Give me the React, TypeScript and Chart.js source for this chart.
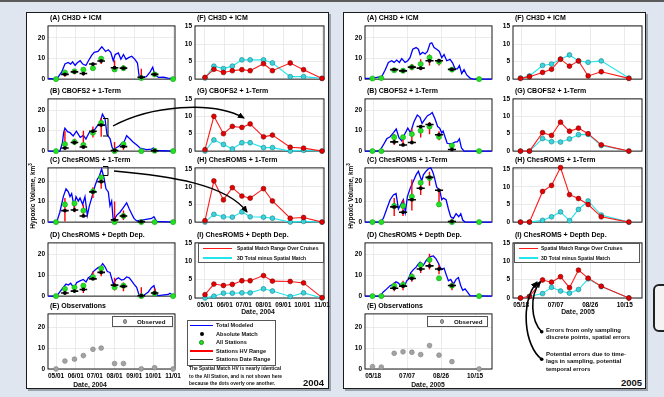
import React, { useEffect, useRef } from "react";
import { Chart, registerables } from "chart.js";
Chart.register(...registerables);

const FONT = "'Liberation Sans', Arial, Helvetica, sans-serif";
Chart.defaults.font.family = FONT;

type Pair = [number, number];
type V = number | null;

// ---------------- DATA ----------------
// days counted from 05/01/2004 and from 05/18/2005
const CRUISE_DAYS_2004 = [0, 14, 29, 43, 58, 71, 92, 106, 134, 155, 184];
const CRUISE_DAYS_2005 = [-1, 12, 31, 44, 57, 70, 83, 97, 116, 156];
const X_TICKS_2004 = [0, 31, 61, 92, 123, 153, 184];
const X_LABELS_2004 = ["05/01", "06/01", "07/01", "08/01", "09/01", "10/01", "11/01"];
const X_TICKS_2005 = [0, 50, 100, 150];
const X_LABELS_2005 = ["05/18", "07/07", "08/26", "10/15"];
const Y_TICKS_VOLUME = [0, 10, 20];
const Y_TICKS_DIFF = [0, 5, 10, 15];
const DATE_RANGE_HALF = 6;

// ---- 2004 total modeled HV (blue) ----
const totalA2004: Pair[] = [[-12,0.3],[1,0],[9,3.5],[14,7.3],[19,8.1],[23,7.3],[26,8.4],[30,6.6],[33,7.8],[38,8.9],[42,7.3],[47,6.6],[51,8.9],[56,11.5],[60,13],[66,13.4],[72,15.7],[75,14.5],[78,13.4],[82,14.2],[86,13],[90,8.9],[93,11.9],[98,12.7],[102,9.6],[106,11.9],[110,9.6],[114,10.4],[119,11.1],[124,9.6],[128,7.8],[131,0.5],[135,0.8],[142,1.2],[148,3.5],[152,5.8],[155,2.3],[161,0.8],[169,0.9],[176,0.5],[186,0.2]];
const totalB2004: Pair[] = [[-12,0],[6,0],[10,4],[12,9],[14,11.2],[18,9.5],[22,9],[27,7.4],[32,9.7],[38,6.7],[43,7.7],[47,5.9],[52,9],[59,9.7],[64,12],[69,13.8],[73,18],[77,15.8],[80,8.2],[85,6],[88,2],[90,0.7],[98,2.2],[103,3.7],[107,4.5],[111,7.5],[116,6],[121,4.5],[127,3],[132,1.5],[142,0.7],[150,1],[153,1.5],[158,0.3],[186,0]];
const totalC2004: Pair[] = [[-12,0],[1,0],[6,4.8],[11.5,12.4],[15.7,16.2],[19.4,14.7],[22,12.4],[24.6,13.9],[28.3,7.9],[31.4,12.4],[35,10.2],[37.7,11.7],[41.9,8.6],[45.5,12.4],[49.2,3.3],[52.4,7.9],[56,11.7],[61.3,17.7],[64.9,20.8],[68,22.3],[71.7,25.8],[75.4,21.5],[78.5,16.2],[82.2,14.7],[84.8,7.9],[87.4,10.2],[90,0.6],[95.3,3.3],[100.5,4.8],[105.8,7.1],[111,9.4],[115.2,6.4],[118.8,4.1],[122.5,1.8],[126.7,0.6],[137.2,1.1],[150.3,1.8],[153.9,2.6],[158.1,0.3],[186,0]];
const totalD2004: Pair[] = [[-12,0],[1,0],[6,2],[11.5,4.2],[15.7,5.8],[19.4,5.3],[23,6.2],[28.3,3.8],[32.5,6.5],[37.7,7.3],[42.9,8],[47.1,6.8],[50.8,8.8],[54.5,9.5],[58.6,11.8],[62.8,12.9],[66.5,13.8],[70.2,14.1],[73.3,15.6],[77,14.1],[80.6,11.8],[84.8,11.4],[90,5.8],[94.2,8],[97.9,8.8],[103.1,7.7],[106.8,8],[111,9.2],[115.2,8.8],[118.8,7.3],[122.5,5.8],[126.7,4.2],[130.9,0.2],[137.2,0.2],[145,2],[150.3,4.2],[153.9,5],[157,1.2],[160.7,0.2],[176.4,0.8],[179,1.4],[185,0.2]];

// ---- 2004 cruise values ----
const greenA2004: V[] = [0, 3.2, 3.8, 4.6, 5.3, 9.9, 4.7, 5.3, 0.5, 2.3, 0];
const blackA2004: V[] = [null, 2.3, 3.5, 2.7, 7.3, 8.8, 5.5, 5.3, 0.9, 2.3, null];
const hvLowA2004: V[] = [null, 1.2, 2.3, 1.7, 5.0, 7.3, 4.3, 4.3, 0.5, 1.2, null];
const hvHighA2004: V[] = [null, 4.3, 4.3, 5.0, 8.1, 10.4, 9.2, 6.6, 5.0, 3.5, null];

const greenB2004: V[] = [0, 3.4, 4.5, 3, 9, 13.8, 0, 3.4, 0, 0.2, 0];
const blackB2004: V[] = [null, 1.5, 4.2, 2, 9.7, 12.7, 0.3, 2.2, null, 0.2, null];
const hvLowB2004: V[] = [null, 1.5, 3, 2, 6.7, 7, 0, 0.7, null, null, null];
const hvHighB2004: V[] = [null, 10, 6, 10, 12, 16, 4.5, 3.7, null, null, null];

const greenC2004: V[] = [0, 8.6, 9.1, 5.6, 15, 21.8, 0, 3, 0, 0, 0];
const blackC2004: V[] = [null, 5.6, 5.9, 3, 14.7, 19.7, 1.1, 3, 0.2, null, null];
const hvLowC2004: V[] = [null, 0.3, 4.8, 2.6, 11.7, 16.2, 0.3, 1, null, null, null];
const hvHighC2004: V[] = [null, 11.7, 10, 8.6, 17, 23, 10, 5.6, null, null, null];

const greenD2004: V[] = [0, 3.5, 4.2, 5, 9.2, 13.3, 4.2, 5, 0, 1.2, 0];
const blackD2004: V[] = [null, 1.5, 2.4, 3.2, 8.3, 11.4, 5.3, 4.7, 0.2, 1.5, null];
const hvLowD2004: V[] = [null, 0.8, 2, 1.5, 7.7, 9.5, 2.7, 2.3, 0, 0.5, null];
const hvHighD2004: V[] = [null, 4.2, 5, 5.5, 11.8, 14, 8.8, 6.5, 4.2, 3.8, null];

const observed2004: V[] = [0, 3.8, 4.7, 6.4, 9.4, 10, 2.6, 2.6, 0.1, 0.6, 0];

const spatialF2004: V[] = [0.5, 2.8, 1.9, 2.4, 2.7, 2.4, 4.4, 2.4, 4.6, 2.7, 0.2];
const totalMinusF2004: V[] = [0.3, 3.7, 3, 3.7, 5.5, 5.5, 5.5, 4.6, 0.7, 0.7, 0.2];
const spatialG2004: V[] = [0.4, 10, 5, 7.1, 6.8, 7.8, 4.1, 4.6, 1.1, 0.85, 0];
const totalMinusG2004: V[] = [0, 3.2, 1.9, 0.6, 2.4, 2.4, 1, 1, 0, 0.2, 0];
const spatialH2004: V[] = [0.4, 11.7, 6.3, 9.8, 7.4, 6.8, 9.5, 6, 1.1, 1.3, 0];
const totalMinusH2004: V[] = [0, 2.2, 1.5, 1.4, 2.9, 1.5, 1.4, 1.1, 0, 0.2, 0];
const spatialI2004: V[] = [0.9, 3.8, 3.4, 3.7, 4.7, 4.7, 6.1, 4.6, 4.5, 4.1, 0.1];
const totalMinusI2004: V[] = [0, 0.5, 1.3, 1.3, 1.4, 1.4, 2.5, 1.9, 0.4, 1.4, 0];

// ---- 2005 total modeled HV (blue) ----
const totalA2005: Pair[] = [[-12,0.3],[-2,0.5],[5,0.8],[12.6,1.2],[17.5,4.3],[22.4,8.1],[27.3,8.9],[30.8,8.1],[34.7,9.2],[38.6,8.1],[42.1,9.9],[47,8.1],[50.9,8.9],[54.3,10.4],[58.3,14.5],[63.2,15.3],[66.6,14.5],[69.1,11.9],[73,13],[76.5,12.2],[79.9,13.4],[83.8,17.3],[86.3,17.6],[89.7,15.3],[93.6,14.5],[97.5,13.4],[101,10.4],[104.4,11.9],[108.3,8.9],[113.2,9.6],[117.1,7.8],[120.6,5],[124,5],[127,6.6],[130.4,2.7],[133.8,4.6],[137.8,2],[142.7,0.5],[147.6,0],[174.6,0]];
const totalB2005: Pair[] = [[-12,0],[5,0],[10,0.3],[15,3],[20,6],[25,7],[30,9],[34,10.8],[38,6.5],[42,5],[46,8],[51,11.2],[55,9],[60,14.2],[65,17.6],[69,16.5],[72,13.5],[75,15],[80,17.3],[84,18],[87,18.8],[91,15.8],[95,12],[98,11.2],[101,8.9],[103,9.8],[106,6.8],[109,3.8],[113,3.5],[117,3.8],[121,4.5],[124,4.5],[127,6],[130,1.5],[134,0],[174.6,0]];
const totalC2005: Pair[] = [[-12,0],[10,0],[15,1.8],[20,6.4],[25,10.9],[29.8,13.2],[33.7,13.9],[37.2,6.4],[39.6,7.9],[44.5,10.9],[47.5,4.8],[50.4,12.4],[54.3,16.2],[59.3,20],[63.2,23],[66.6,24.8],[69.1,22.3],[71.5,20],[74,23],[77.9,24.8],[81.4,26],[84.8,26.4],[87.7,24.5],[90.2,21.8],[93.6,17],[96.1,16.2],[98.5,14.7],[101,10.9],[103.4,11.7],[107.4,10.9],[110.8,6.4],[114.2,2.6],[118.2,1.8],[122.1,4.1],[126,2.6],[129,4.1],[131.9,1],[135.3,0],[174.6,0]];
const totalD2005: Pair[] = [[-12,0],[10,0],[15,2],[20,3.5],[25,5],[29.8,5.8],[33.7,6.9],[37.2,6.3],[40.6,5],[44.5,6.3],[47,5.4],[49.4,7.4],[51.9,8.1],[55.3,11.2],[59.3,12.8],[63.2,14],[66.6,15.6],[69.1,16.4],[74,14.9],[77.9,17.1],[82.8,19],[88.7,19.4],[92.6,18],[96.1,15.9],[98.5,14],[101,12.8],[104.4,13.5],[107.4,10.5],[110.8,7.4],[114.2,8.1],[118.2,5.8],[122.1,8.1],[125.5,8.9],[129,5],[131.9,2.8],[135.3,3.5],[138.7,2],[142.7,0.2],[174.6,0]];

// ---- 2005 cruise values ----
const greenA2005: V[] = [0.3, 0.5, 4.3, 4.1, 5.8, 7.3, 10.4, 8.4, 4.6, 0];
const blackA2005: V[] = [null, null, 4.6, 4, 5.8, 5.3, 8.9, 8.9, 4.7, null];
const hvLowA2005: V[] = [null, null, 3.5, 3.2, 4.3, 4.3, 6.6, 6.6, 3.8, null];
const hvHighA2005: V[] = [null, null, 5.3, 4.8, 7.3, 9.6, 11.9, 9.6, 5.3, null];

const greenB2005: V[] = [0, 0, 6.8, 6.8, 8.3, 10, 12, 7, 2.7, 0];
const blackB2005: V[] = [null, null, 4.5, 3, 4.2, 12, 13, 8, 0.8, null];
const hvLowB2005: V[] = [null, null, 3, 2.5, 3.8, 6.7, 8.2, 5.3, 0.5, null];
const hvHighB2005: V[] = [null, null, 8.3, 7, 11, 12.7, 14.2, 9.7, 3, null];

const greenC2005: V[] = [0, 0, 7.9, 7.9, 12.4, 19.2, 21.5, 8.6, 0, 0];
const blackC2005: V[] = [null, null, 7.4, 4.8, 10.9, 16.5, 21.8, 15.5, 0.3, null];
const hvLowC2005: V[] = [null, null, 3, 3, 5.6, 13.2, 17.7, 9.4, 0, null];
const hvHighC2005: V[] = [null, null, 11.7, 10.9, 20.8, 20, 24.5, 16.2, 1.8, null];

const greenD2005: V[] = [0, 0, 5, 5.5, 9.4, 15, 17.5, 8.6, 5, 0];
const blackD2005: V[] = [null, null, 3.8, 4.8, 8.5, 13.1, 14.6, 13.1, 5.1, null];
const hvLowD2005: V[] = [null, null, 2.3, 2.8, 6.9, 11.2, 12.8, 10.5, 2.8, null];
const hvHighD2005: V[] = [null, null, 6.6, 7.4, 10.9, 15.8, 20.5, 15, 6.6, null];

const observed2005: V[] = [1.1, 0.9, 7.5, 8.2, 8, 6.9, 11.2, 6.6, 3.5, 0];

const spatialF2005: V[] = [0.2, 0.7, 1.9, 2.8, 5.7, 3.7, 5.2, 0.9, 2.1, 0.2];
const totalMinusF2005: V[] = [0.3, 0.9, 3.9, 4.3, 5.7, 6.9, 5.2, 4.8, 5.2, 0.3];
const spatialG2005: V[] = [0, 0, 5.3, 4.5, 8.3, 5.7, 6.6, 5, 1.8, 0];
const totalMinusG2005: V[] = [0, 0, 3.6, 2.7, 2.6, 3.5, 4.7, 4.8, 1.6, 0];
const spatialH2005: V[] = [0, 0, 8.7, 10.4, 15.5, 7.8, 6.7, 5, 1.5, 0];
const totalMinusH2005: V[] = [0, 0, 0.5, 1.5, 2.9, 0.4, 3.6, 6, 2, 0];
const spatialI2005: V[] = [0, 0.4, 4.9, 4.3, 5.8, 2.8, 7.6, 5.4, 3.2, 0];
const totalMinusI2005: V[] = [0, 0.4, 1.2, 2.9, 1.9, 1.3, 2.3, 5.2, 3.1, 0];

// ---------------- helpers ----------------
const toXY = (pairs: Pair[]) => pairs.map(([x, y]) => ({ x, y }));
const atDays = (days: number[], vals: V[]) => vals.map((y, i) => ({ x: days[i], y }));
const vSegs = (days: number[], lo: V[], hi: V[]) => {
  const out: any[] = [];
  days.forEach((d, i) => {
    if (lo[i] !== null && hi[i] !== null) out.push({ x: d, y: lo[i] }, { x: d, y: hi[i] }, { x: d, y: null });
  });
  return out;
};
const hSegs = (days: number[], vals: V[], half: number) => {
  const out: any[] = [];
  days.forEach((d, i) => {
    if (vals[i] !== null) out.push({ x: d - half, y: vals[i] }, { x: d + half, y: vals[i] }, { x: d, y: null });
  });
  return out;
};

function seriesDatasets(days: number[], total: Pair[], green: V[], black: V[], lo: V[], hi: V[]) {
  return [
    { data: atDays(days, black), showLine: false, pointRadius: 1.9, pointBackgroundColor: "#000", pointBorderWidth: 0, clip: 6 },
    { data: hSegs(days, black, DATE_RANGE_HALF), showLine: true, spanGaps: false, borderColor: "#000", borderWidth: 1.6, pointRadius: 0, clip: 6 },
    { data: atDays(days, green), showLine: false, pointRadius: 2.6, pointBackgroundColor: "#22e022", pointBorderColor: "#109810", pointBorderWidth: 0.5, clip: 6 },
    { data: vSegs(days, lo, hi), showLine: true, spanGaps: false, borderColor: "#ff0000", borderWidth: 1.4, pointRadius: 0, clip: 6 },
    { data: toXY(total), showLine: true, borderColor: "#0000ff", borderWidth: 1.3, pointRadius: 0, clip: 6 },
  ];
}
function diffDatasets(days: number[], spatial: V[], totalMinus: V[]) {
  return [
    { data: atDays(days, spatial), showLine: true, borderColor: "#ff1a1a", borderWidth: 1.1, pointRadius: 2.4, pointBackgroundColor: "#e60000", pointBorderColor: "#7a0000", pointBorderWidth: 0.6, clip: 6 },
    { data: atDays(days, totalMinus), showLine: true, borderColor: "#22e6ee", borderWidth: 1.1, pointRadius: 2.4, pointBackgroundColor: "#3cd4dc", pointBorderColor: "#137f85", pointBorderWidth: 0.6, clip: 6 },
  ];
}
function obsDatasets(days: number[], obs: V[]) {
  return [{ data: atDays(days, obs), showLine: false, pointRadius: 2.4, pointBackgroundColor: "#a3a3a3", pointBorderColor: "#7d7d7d", pointBorderWidth: 0.6, clip: 6 }];
}

// ---------------- layout ----------------
const ROWS = [
  { top: 24, bottom: 81 },
  { top: 97, bottom: 153 },
  { top: 166, bottom: 224 },
  { top: 241, bottom: 298 },
  { top: 312, bottom: 369 },
];
const COLS = {
  l04: { left: 48, right: 175, xMin: -12.6, xMax: 187 },
  r04: { left: 195, right: 324, xMin: -15.7, xMax: 187.1 },
  l05: { left: 365, right: 492, xMin: -12, xMax: 175 },
  r05: { left: 513, right: 642, xMin: -11.8, xMax: 175 },
};

type Spec = {
  id: string;
  col: { left: number; right: number; xMin: number; xMax: number };
  row: number;
  yMax: number;
  yTicks: number[];
  xTicks: number[];
  xLabels: string[] | null;
  datasets: any[];
};

const framePlugin = {
  id: "frameBox",
  beforeDatasetsDraw(chart: any) {
    const { ctx, chartArea } = chart;
    ctx.save();
    ctx.strokeStyle = "#000";
    ctx.lineWidth = 0.9;
    ctx.strokeRect(chartArea.left, chartArea.top, chartArea.right - chartArea.left, chartArea.bottom - chartArea.top);
    ctx.restore();
  },
};

const YW = 20, PT = 5, PR = 14, PB = 5, XH = 12;

function ChartPanel({ spec }: { spec: Spec }) {
  const ref = useRef<HTMLCanvasElement>(null);
  const r = ROWS[spec.row];
  const w = spec.col.right - spec.col.left + YW + PR;
  const h = r.bottom - r.top + PT + (spec.xLabels ? XH : PB);
  useEffect(() => {
    const chart = new Chart(ref.current as HTMLCanvasElement, {
      type: "scatter",
      data: { datasets: spec.datasets },
      options: {
        animation: false,
        responsive: false,
        maintainAspectRatio: false,
        events: [],
        layout: { padding: { top: PT, right: PR, left: 0, bottom: spec.xLabels ? 0 : PB } },
        plugins: { legend: { display: false }, tooltip: { enabled: false }, title: { display: false } },
        scales: {
          x: {
            type: "linear",
            min: spec.col.xMin,
            max: spec.col.xMax,
            afterBuildTicks: (s: any) => { s.ticks = spec.xTicks.map((v) => ({ value: v })); },
            afterFit: (s: any) => { s.height = spec.xLabels ? XH : 0; },
            grid: { color: "#e2e2e2", lineWidth: 0.7, drawTicks: false },
            border: { display: false },
            ticks: {
              display: !!spec.xLabels,
              autoSkip: false,
              maxRotation: 0,
              padding: 3,
              color: "#000",
              font: { size: 6.4, weight: "bold", family: FONT },
              callback: (v: any) => {
                const i = spec.xTicks.indexOf(Number(v));
                return spec.xLabels && i >= 0 ? spec.xLabels[i] : "";
              },
            },
          },
          y: {
            type: "linear",
            min: 0,
            max: spec.yMax,
            afterBuildTicks: (s: any) => { s.ticks = spec.yTicks.map((v) => ({ value: v })); },
            afterFit: (s: any) => { s.width = YW; },
            grid: { color: "#e2e2e2", lineWidth: 0.7, drawTicks: false },
            border: { display: false },
            ticks: { padding: 3, color: "#000", font: { size: 6.5, weight: "bold", family: FONT } },
          },
        },
      } as any,
      plugins: [framePlugin],
    });
    return () => chart.destroy();
  }, []);
  return (
    <canvas
      ref={ref}
      width={w}
      height={h}
      style={{ position: "absolute", left: spec.col.left - YW, top: r.top - PT, width: w, height: h, display: "block" }}
    />
  );
}

const abs = (o: any) => ({ position: "absolute" as const, ...o });

function Title({ text, x, row }: { text: string; x: number; row: number }) {
  return (
    <div style={abs({ left: x, top: ROWS[row].top - 11, fontSize: 7, fontWeight: "bold", lineHeight: "9px", whiteSpace: "nowrap", color: "#000" })}>
      {text}
    </div>
  );
}

function LegendLine({ x, y, color, w }: { x: number; y: number; color: string; w: number }) {
  return <div style={abs({ left: x, top: y - 0.75, width: w, height: 1.5, background: color })} />;
}
function LegendDot({ x, y, color, r, border }: { x: number; y: number; color: string; r: number; border?: string }) {
  return <div style={abs({ left: x - r, top: y - r, width: 2 * r, height: 2 * r, borderRadius: "50%", background: color, boxSizing: "border-box", border: border ? `0.6px solid ${border}` : "none" })} />;
}
function Txt({ x, y, size, text, weight, center }: { x: number; y: number; size: number; text: any; weight?: any; center?: boolean }) {
  return (
    <div style={abs({ left: x, top: y - size * 0.62, fontSize: size, fontWeight: weight || "normal", lineHeight: `${size * 1.2}px`, whiteSpace: "nowrap", color: "#111", transform: center ? "translateX(-50%)" : undefined })}>
      {text}
    </div>
  );
}

export default function App() {
  const specs: Spec[] = [
    // 2004 left column
    { id: "A04", col: COLS.l04, row: 0, yMax: 25.8, yTicks: Y_TICKS_VOLUME, xTicks: X_TICKS_2004, xLabels: null, datasets: seriesDatasets(CRUISE_DAYS_2004, totalA2004, greenA2004, blackA2004, hvLowA2004, hvHighA2004) },
    { id: "B04", col: COLS.l04, row: 1, yMax: 25.5, yTicks: Y_TICKS_VOLUME, xTicks: X_TICKS_2004, xLabels: null, datasets: seriesDatasets(CRUISE_DAYS_2004, totalB2004, greenB2004, blackB2004, hvLowB2004, hvHighB2004) },
    { id: "C04", col: COLS.l04, row: 2, yMax: 26.4, yTicks: Y_TICKS_VOLUME, xTicks: X_TICKS_2004, xLabels: null, datasets: seriesDatasets(CRUISE_DAYS_2004, totalC2004, greenC2004, blackC2004, hvLowC2004, hvHighC2004) },
    { id: "D04", col: COLS.l04, row: 3, yMax: 25.6, yTicks: Y_TICKS_VOLUME, xTicks: X_TICKS_2004, xLabels: null, datasets: seriesDatasets(CRUISE_DAYS_2004, totalD2004, greenD2004, blackD2004, hvLowD2004, hvHighD2004) },
    { id: "E04", col: COLS.l04, row: 4, yMax: 26.3, yTicks: Y_TICKS_VOLUME, xTicks: X_TICKS_2004, xLabels: X_LABELS_2004, datasets: obsDatasets(CRUISE_DAYS_2004, observed2004) },
    // 2004 right column
    { id: "F04", col: COLS.r04, row: 0, yMax: 15.2, yTicks: Y_TICKS_DIFF, xTicks: X_TICKS_2004, xLabels: null, datasets: diffDatasets(CRUISE_DAYS_2004, spatialF2004, totalMinusF2004) },
    { id: "G04", col: COLS.r04, row: 1, yMax: 15, yTicks: Y_TICKS_DIFF, xTicks: X_TICKS_2004, xLabels: null, datasets: diffDatasets(CRUISE_DAYS_2004, spatialG2004, totalMinusG2004) },
    { id: "H04", col: COLS.r04, row: 2, yMax: 15.4, yTicks: Y_TICKS_DIFF, xTicks: X_TICKS_2004, xLabels: null, datasets: diffDatasets(CRUISE_DAYS_2004, spatialH2004, totalMinusH2004) },
    { id: "I04", col: COLS.r04, row: 3, yMax: 15, yTicks: Y_TICKS_DIFF, xTicks: X_TICKS_2004, xLabels: X_LABELS_2004, datasets: diffDatasets(CRUISE_DAYS_2004, spatialI2004, totalMinusI2004) },
    // 2005 left column
    { id: "A05", col: COLS.l05, row: 0, yMax: 25.8, yTicks: Y_TICKS_VOLUME, xTicks: X_TICKS_2005, xLabels: null, datasets: seriesDatasets(CRUISE_DAYS_2005, totalA2005, greenA2005, blackA2005, hvLowA2005, hvHighA2005) },
    { id: "B05", col: COLS.l05, row: 1, yMax: 25.5, yTicks: Y_TICKS_VOLUME, xTicks: X_TICKS_2005, xLabels: null, datasets: seriesDatasets(CRUISE_DAYS_2005, totalB2005, greenB2005, blackB2005, hvLowB2005, hvHighB2005) },
    { id: "C05", col: COLS.l05, row: 2, yMax: 26.4, yTicks: Y_TICKS_VOLUME, xTicks: X_TICKS_2005, xLabels: null, datasets: seriesDatasets(CRUISE_DAYS_2005, totalC2005, greenC2005, blackC2005, hvLowC2005, hvHighC2005) },
    { id: "D05", col: COLS.l05, row: 3, yMax: 25.7, yTicks: Y_TICKS_VOLUME, xTicks: X_TICKS_2005, xLabels: null, datasets: seriesDatasets(CRUISE_DAYS_2005, totalD2005, greenD2005, blackD2005, hvLowD2005, hvHighD2005) },
    { id: "E05", col: COLS.l05, row: 4, yMax: 26.3, yTicks: Y_TICKS_VOLUME, xTicks: X_TICKS_2005, xLabels: X_LABELS_2005, datasets: obsDatasets(CRUISE_DAYS_2005, observed2005) },
    // 2005 right column
    { id: "F05", col: COLS.r05, row: 0, yMax: 15.2, yTicks: Y_TICKS_DIFF, xTicks: X_TICKS_2005, xLabels: null, datasets: diffDatasets(CRUISE_DAYS_2005, spatialF2005, totalMinusF2005) },
    { id: "G05", col: COLS.r05, row: 1, yMax: 15, yTicks: Y_TICKS_DIFF, xTicks: X_TICKS_2005, xLabels: null, datasets: diffDatasets(CRUISE_DAYS_2005, spatialG2005, totalMinusG2005) },
    { id: "H05", col: COLS.r05, row: 2, yMax: 15.4, yTicks: Y_TICKS_DIFF, xTicks: X_TICKS_2005, xLabels: null, datasets: diffDatasets(CRUISE_DAYS_2005, spatialH2005, totalMinusH2005) },
    { id: "I05", col: COLS.r05, row: 3, yMax: 15, yTicks: Y_TICKS_DIFF, xTicks: X_TICKS_2005, xLabels: X_LABELS_2005, datasets: diffDatasets(CRUISE_DAYS_2005, spatialI2005, totalMinusI2005) },
  ];

  const leftTitles = ["(A) CH3D + ICM", "(B) CBOFS2 + 1-Term", "(C) ChesROMS + 1-Term", "(D) ChesROMS + Depth Dep.", "(E) Observations"];
  const rightTitles = ["(F) CH3D + ICM", "(G) CBOFS2 + 1-Term", "(H) ChesROMS + 1-Term", "(I) ChesROMS + Depth Dep."];

  const yTitle = (cx: number) => (
    <div style={abs({ left: cx, top: 196, transform: "translate(-50%, -50%) rotate(-90deg)", fontSize: 6.5, fontWeight: "bold", whiteSpace: "nowrap", lineHeight: "8px", color: "#000" })}>
      Hypoxic Volume, km<sup style={{ fontSize: 4.5, verticalAlign: "3px" }}>3</sup>
    </div>
  );

  return (
    <div style={abs({ left: 0, top: 0, width: 664, height: 397, overflow: "hidden", background: "#dfe6ef", fontFamily: FONT })}>
      <div style={abs({ left: 0, top: 0, width: 664, height: 2, background: "#5b5b5b" })} />
      <div style={abs({ left: 26, top: 12, width: 303, height: 377, background: "#fff", border: "1px solid #1a1a1a", boxSizing: "border-box", boxShadow: "2px 2px 0 #9aa3ad" })} />
      <div style={abs({ left: 343, top: 12, width: 303, height: 377, background: "#fff", border: "1px solid #1a1a1a", boxSizing: "border-box", boxShadow: "2px 2px 0 #9aa3ad" })} />
      <div style={abs({ left: 653, top: 284, width: 20, height: 48, background: "#f3f3f3", border: "2.5px solid #222", borderRadius: 6, boxSizing: "border-box" })} />

      {specs.map((s) => <ChartPanel key={s.id} spec={s} />)}

      {leftTitles.map((t, i) => <Title key={"l04" + i} text={t} x={50} row={i} />)}
      {rightTitles.map((t, i) => <Title key={"r04" + i} text={t} x={197} row={i} />)}
      {leftTitles.map((t, i) => <Title key={"l05" + i} text={t} x={367} row={i} />)}
      {rightTitles.map((t, i) => <Title key={"r05" + i} text={t} x={515} row={i} />)}

      {yTitle(32)}
      {yTitle(350)}

      <Txt x={90} y={385} size={6.8} weight="bold" text="Date, 2004" center />
      <Txt x={258} y={312} size={6.8} weight="bold" text="Date, 2004" center />
      <Txt x={428} y={385} size={6.8} weight="bold" text="Date, 2005" center />
      <Txt x={578} y={312} size={6.8} weight="bold" text="Date, 2005" center />

      {/* E legends */}
      <div style={abs({ left: 112, top: 316, width: 61, height: 11, background: "#fff", border: "0.8px solid #555", boxSizing: "border-box" })} />
      <LegendDot x={125} y={321.5} color="#a3a3a3" r={2.2} border="#7d7d7d" />
      <Txt x={137} y={321.5} size={6.2} weight="bold" text="Observed" />
      <div style={abs({ left: 427, top: 316, width: 61, height: 11, background: "#fff", border: "0.8px solid #555", boxSizing: "border-box" })} />
      <LegendDot x={442} y={321.5} color="#a3a3a3" r={2.2} border="#7d7d7d" />
      <Txt x={454} y={321.5} size={6.2} weight="bold" text="Observed" />

      {/* I legends */}
      <div style={abs({ left: 198, top: 243, width: 126, height: 20, background: "#fff", border: "0.8px solid #555", boxSizing: "border-box" })} />
      <LegendLine x={203} y={248.5} w={29} color="#ff1a1a" />
      <Txt x={237} y={248.5} size={5} text="Spatial Match Range Over Cruises" weight="600" />
      <LegendLine x={203} y={258} w={29} color="#22e6ee" />
      <Txt x={237} y={258} size={5} text="3D Total minus Spatial Match" weight="600" />
      <div style={abs({ left: 514, top: 243, width: 126, height: 20, background: "#fff", border: "0.8px solid #555", boxSizing: "border-box" })} />
      <LegendLine x={519} y={248.5} w={19} color="#ff1a1a" />
      <Txt x={541} y={248.5} size={5} text="Spatial Match Range Over Cruises" weight="600" />
      <LegendLine x={519} y={258} w={19} color="#22e6ee" />
      <Txt x={541} y={258} size={5} text="3D Total minus Spatial Match" weight="600" />

      {/* 2004 main legend */}
      <div style={abs({ left: 187, top: 320, width: 89, height: 46, background: "#fff", border: "0.8px solid #555", boxSizing: "border-box" })} />
      <LegendLine x={190} y={325.7} w={23} color="#0000ff" />
      <Txt x={216} y={325.7} size={5.6} text="Total Modeled" weight="600" />
      <LegendDot x={201.5} y={334} r={2} color="#000" />
      <Txt x={216} y={334} size={5.6} text="Absolute Match" weight="600" />
      <LegendDot x={201.5} y={342.7} r={2.4} color="#22e022" border="#109810" />
      <Txt x={216} y={342.7} size={5.6} text="All Stations" weight="600" />
      <LegendLine x={190} y={351} w={23} color="#ff0000" />
      <Txt x={216} y={351} size={5.6} text="Stations HV Range" weight="600" />
      <LegendLine x={190} y={359.3} w={23} color="#333" />
      <Txt x={216} y={359.3} size={5.6} text="Stations Date Range" weight="600" />

      <Txt x={189} y={369.5} size={4.9} weight="bold" text="The Spatial Match HV is nearly identical" />
      <Txt x={189} y={376.8} size={4.9} weight="bold" text="to the All Station, and is not shown here" />
      <Txt x={189} y={384} size={4.9} weight="bold" text="because the dots overly one another." />
      <Txt x={303} y={383} size={9.5} weight="bold" text="2004" />
      <Txt x={621} y={383} size={9.5} weight="bold" text="2005" />

      <Txt x={546} y={330.5} size={6} text="Errors from only sampling" weight="600" />
      <Txt x={546} y={338} size={6} text="discrete points, spatial errors" weight="600" />
      <Txt x={546} y={354.5} size={6} text="Potential errors due to time-" weight="600" />
      <Txt x={546} y={362} size={6} text="lags in sampling, potential" weight="600" />
      <Txt x={546} y={369.5} size={6} text="temporal errors" weight="600" />

      <svg width={664} height={397} style={abs({ left: 0, top: 0, pointerEvents: "none" })}>
        <defs>
          <marker id="ah" markerWidth="7" markerHeight="6" refX="6" refY="3" orient="auto" markerUnits="userSpaceOnUse">
            <path d="M0,0 L7,3 L0,6 z" fill="#000" />
          </marker>
        </defs>
        <path d="M103,118.5 L108,118.5 L108,136 L103,136" stroke="#000" strokeWidth={1} fill="none" />
        <path d="M113,126 C150,106 212,100 244,118" stroke="#000" strokeWidth={1.4} fill="none" markerEnd="url(#ah)" />
        <path d="M103,166.5 L108,166.5 L108,175.5 L103,175.5" stroke="#000" strokeWidth={1} fill="none" />
        <path d="M114,171 C170,176 226,184 247,212" stroke="#000" strokeWidth={1.4} fill="none" markerEnd="url(#ah)" />
        <circle cx={541.7} cy={331.7} r={1.8} fill="#000" />
        <circle cx={541.7} cy={359.3} r={1.8} fill="#000" />
        <path d="M541.7,331.7 C531,321 529,296 540.5,281.5" stroke="#000" strokeWidth={1.6} fill="none" markerEnd="url(#ah)" />
        <path d="M541.7,359.3 C524,346 520,302 537,282" stroke="#000" strokeWidth={1.6} fill="none" markerEnd="url(#ah)" />
      </svg>
    </div>
  );
}
